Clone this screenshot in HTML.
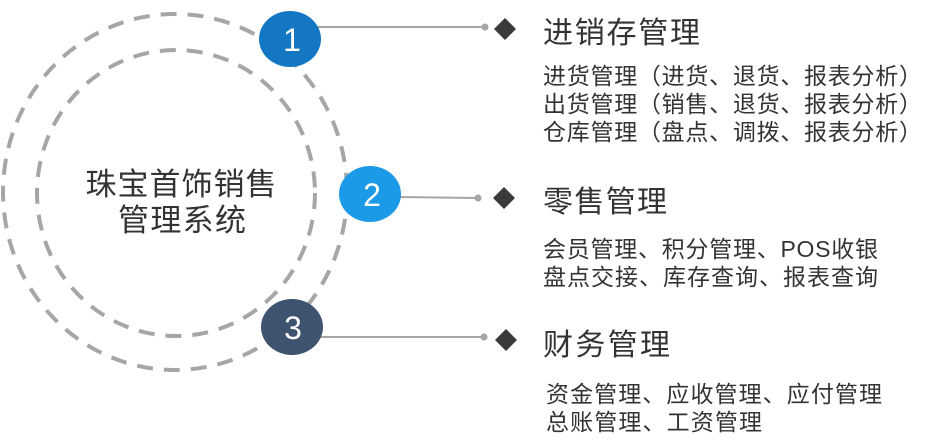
<!DOCTYPE html>
<html><head><meta charset="utf-8"><style>
html,body{margin:0;padding:0;background:#fff;}
svg{display:block;}
text{font-family:"Liberation Sans","Noto Sans CJK SC",sans-serif;fill:#333;}
</style></head><body>
<svg width="944" height="441" viewBox="0 0 944 441" xmlns="http://www.w3.org/2000/svg">
<ellipse cx="175" cy="192" rx="172" ry="178" fill="none" stroke="#a6a6a6" stroke-width="4" stroke-dasharray="16 11"/>
<ellipse cx="176" cy="193" rx="139" ry="143" fill="none" stroke="#a6a6a6" stroke-width="4" stroke-dasharray="16 11"/>
<text x="181" y="195" font-size="31" text-anchor="middle" textLength="191" fill="#404040">珠宝首饰销售</text>
<text x="182" y="231" font-size="31" text-anchor="middle" textLength="128" fill="#404040">管理系统</text>

<line x1="318" y1="27" x2="485" y2="27" stroke="#a6a6a6" stroke-width="2"/>
<circle cx="485" cy="27" r="3.5" fill="#a6a6a6"/>
<line x1="398" y1="197" x2="478" y2="198" stroke="#a6a6a6" stroke-width="2"/>
<circle cx="478" cy="198" r="3.5" fill="#a6a6a6"/>
<line x1="318" y1="337" x2="484" y2="337" stroke="#a6a6a6" stroke-width="2"/>
<circle cx="484" cy="337" r="3.5" fill="#a6a6a6"/>

<ellipse cx="290" cy="39" rx="31" ry="28" fill="#1477c4"/>
<text x="292" y="51" font-size="32" text-anchor="middle" style="fill:#fff">1</text>
<ellipse cx="370" cy="194" rx="31" ry="28" fill="#1b9ae8"/>
<text x="372" y="206" font-size="32" text-anchor="middle" style="fill:#fff">2</text>
<ellipse cx="292" cy="327" rx="31" ry="28" fill="#3e5370"/>
<text x="293" y="339" font-size="32" text-anchor="middle" style="fill:#fff">3</text>

<polygon points="505,18 516,29 505,40 494,29" fill="#3a3a3a"/>
<polygon points="504,187 515,198 504,209 493,198" fill="#3a3a3a"/>
<polygon points="506,329 517,340 506,351 495,340" fill="#3a3a3a"/>

<text x="543" y="43" font-size="30" textLength="157">进销存管理</text>
<text x="543" y="84" font-size="23" textLength="379">进货管理（进货、退货、报表分析）</text>
<text x="543" y="112" font-size="23" textLength="379">出货管理（销售、退货、报表分析）</text>
<text x="543" y="140" font-size="23" textLength="379">仓库管理（盘点、调拨、报表分析）</text>

<text x="543" y="212" font-size="30" textLength="124">零售管理</text>
<text x="543" y="257" font-size="23" textLength="335">会员管理、积分管理、POS收银</text>
<text x="543" y="285" font-size="23" textLength="335">盘点交接、库存查询、报表查询</text>

<text x="543" y="355" font-size="30" textLength="127">财务管理</text>
<text x="546" y="402" font-size="23" textLength="336">资金管理、应收管理、应付管理</text>
<text x="546" y="430" font-size="23" textLength="216">总账管理、工资管理</text>
</svg>
</body></html>
